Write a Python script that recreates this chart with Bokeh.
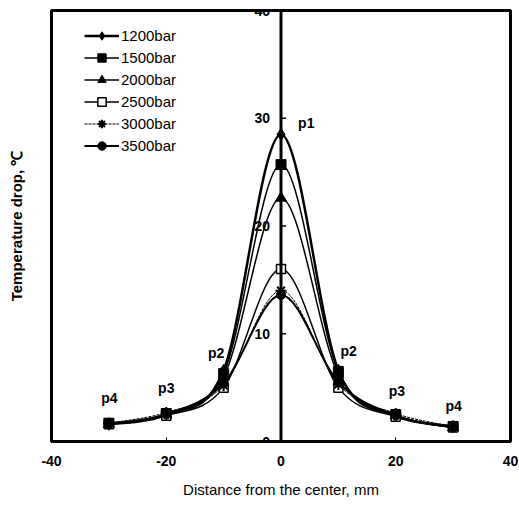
import numpy as np
from bokeh.plotting import figure
from bokeh.models import Span, FixedTicker, Range1d, Label
from bokeh.core.properties import value
from bokeh.embed import file_html
from bokeh.resources import INLINE

# ---- data ----
distance = [-30, -20, -10, 0, 10, 20, 30]
series_names = ["1200bar", "1500bar", "2000bar", "2500bar", "3000bar", "3500bar"]
drop_1200 = [1.6, 2.5, 6.6, 28.5, 6.6, 2.4, 1.4]
drop_1500 = [1.7, 2.6, 6.3, 25.7, 6.5, 2.5, 1.4]
drop_2000 = [1.6, 2.5, 6.0, 22.6, 6.2, 2.4, 1.3]
drop_2500 = [1.6, 2.4, 5.0, 16.0, 5.0, 2.3, 1.3]
drop_3000 = [1.7, 2.7, 5.2, 14.0, 5.3, 2.6, 1.4]
drop_3500 = [1.6, 2.5, 5.4, 13.6, 5.5, 2.4, 1.3]
y_ticks = [0, 10, 20, 30, 40]
y_tick_labels = ["0", "10", "20", "30", "40"]
x_ticks = [-40, -20, 0, 20, 40]
x_tick_labels = ["-40", "-20", "0", "20", "40"]
point_labels = ["p4", "p3", "p2", "p1", "p2", "p3", "p4"]
point_label_x = [-29.9, -20.0, -11.3, 4.4, 11.8, 20.2, 30.1]
point_label_y = [4.0, 5.0, 8.2, 29.6, 8.4, 4.7, 3.3]

FONT = "Liberation Sans"

p = figure(width=518, height=515, output_backend="svg", toolbar_location=None,
           x_range=Range1d(-40, 40), y_range=Range1d(0, 40),
           min_border_left=51, min_border_right=8, min_border_top=10, min_border_bottom=74)
p.background_fill_color = "white"
p.border_fill_color = "white"
p.grid.visible = False
p.outline_line_color = "black"
p.outline_line_width = 3

# x axis
p.xaxis.ticker = FixedTicker(ticks=x_ticks)
p.xaxis.major_label_overrides = {t: s for t, s in zip(x_ticks, x_tick_labels)}
p.xaxis.major_tick_in = 4
p.xaxis.major_tick_out = 0
p.xaxis.minor_tick_line_color = None
p.xaxis.axis_line_width = 3
p.xaxis.major_label_text_font = FONT
p.xaxis.major_label_text_font_style = "bold"
p.xaxis.major_label_text_font_size = "14px"
p.xaxis.major_label_text_color = "black"
p.xaxis.major_label_standoff = 14
p.xaxis.axis_label = "Distance from the center, mm"
p.xaxis.axis_label_text_font = FONT
p.xaxis.axis_label_text_font_style = "normal"
p.xaxis.axis_label_text_font_size = "15px"
p.xaxis.axis_label_text_color = "black"
p.xaxis.axis_label_standoff = 12

# left axis used only for its title
p.yaxis.ticker = FixedTicker(ticks=[])
p.yaxis.axis_line_color = None
p.yaxis.major_tick_line_color = None
p.yaxis.minor_tick_line_color = None
p.yaxis.axis_label = "Temperature drop, \u2103"
p.yaxis.axis_label_text_font = FONT
p.yaxis.axis_label_text_font_style = "bold"
p.yaxis.axis_label_text_font_size = "15px"
p.yaxis.axis_label_text_color = "black"
p.yaxis.axis_label_standoff = 27

# central y axis
p.add_layout(Span(location=0, dimension="height", line_color="black", line_width=3))
p.ray(x=[0] * len(y_ticks), y=y_ticks, length=5, length_units="screen", angle=0,
      line_color="black", line_width=1.5)
for yt, lab in zip(y_ticks, y_tick_labels):
    p.add_layout(Label(x=0, y=yt, text=lab, x_offset=-11,
                       text_align="right", text_baseline="middle",
                       text_font=FONT, text_font_style="bold",
                       text_font_size="14px", text_color="#000000",
                       text_alpha=1.0, level="overlay"))


def bezier_parts(xs, ys):
    xs = np.asarray(xs, float)
    ys = np.asarray(ys, float)
    xp = np.concatenate([[xs[0]], xs, [xs[-1]]])
    yp = np.concatenate([[ys[0]], ys, [ys[-1]]])
    n = len(xs)
    d = dict(x0=[], y0=[], x1=[], y1=[], cx0=[], cy0=[], cx1=[], cy1=[])
    for i in range(n - 1):
        d["x0"].append(xs[i]); d["y0"].append(ys[i])
        d["x1"].append(xs[i + 1]); d["y1"].append(ys[i + 1])
        d["cx0"].append(xs[i] + (xp[i + 2] - xp[i]) / 6)
        d["cy0"].append(ys[i] + (yp[i + 2] - yp[i]) / 6)
        d["cx1"].append(xs[i + 1] - (xp[i + 3] - xp[i + 1]) / 6)
        d["cy1"].append(ys[i + 1] - (yp[i + 3] - yp[i + 1]) / 6)
    return d


all_series = [drop_1200, drop_1500, drop_2000, drop_2500, drop_3000, drop_3500]
styles = [
    dict(marker="diamond", size=12, fill="black", lw=2.5, dash="solid", mlw=1),
    dict(marker="square", size=10, fill="black", lw=1.5, dash="solid", mlw=1),
    dict(marker="triangle", size=11, fill="black", lw=1.5, dash="solid", mlw=1),
    dict(marker="square", size=9, fill="white", lw=1.5, dash="solid", mlw=1.5),
    dict(marker="asterisk", size=11, fill="black", lw=1, dash="3 1", mlw=2),
    dict(marker="circle", size=9, fill="black", lw=2, dash="solid", mlw=1),
]

for name, ys, st in zip(series_names, all_series, styles):
    b = bezier_parts(distance, ys)
    p.bezier(x0="x0", y0="y0", x1="x1", y1="y1", cx0="cx0", cy0="cy0",
             cx1="cx1", cy1="cy1", source=b, line_color="black",
             line_width=st["lw"], line_dash=st["dash"], legend_label=name)
    p.scatter(distance, ys, marker=st["marker"], size=st["size"],
              fill_color=st["fill"], line_color="black", line_width=st["mlw"],
              legend_label=name)

p.text(x=point_label_x, y=point_label_y, text=point_labels,
       text_align="center", text_baseline="middle",
       text_font=value(FONT), text_font_style="bold", text_font_size="14px",
       text_color="black")

lg = p.legend[0]
lg.location = (33, 285)
lg.background_fill_alpha = 0
lg.border_line_color = None
lg.padding = 5
lg.spacing = 1
lg.margin = 0
lg.label_height = 21
lg.glyph_height = 21
lg.glyph_width = 35
lg.label_standoff = 2
lg.label_text_font = FONT
lg.label_text_font_size = "15px"
lg.label_text_color = "black"

open("out.html", "w").write(file_html(p, INLINE))
